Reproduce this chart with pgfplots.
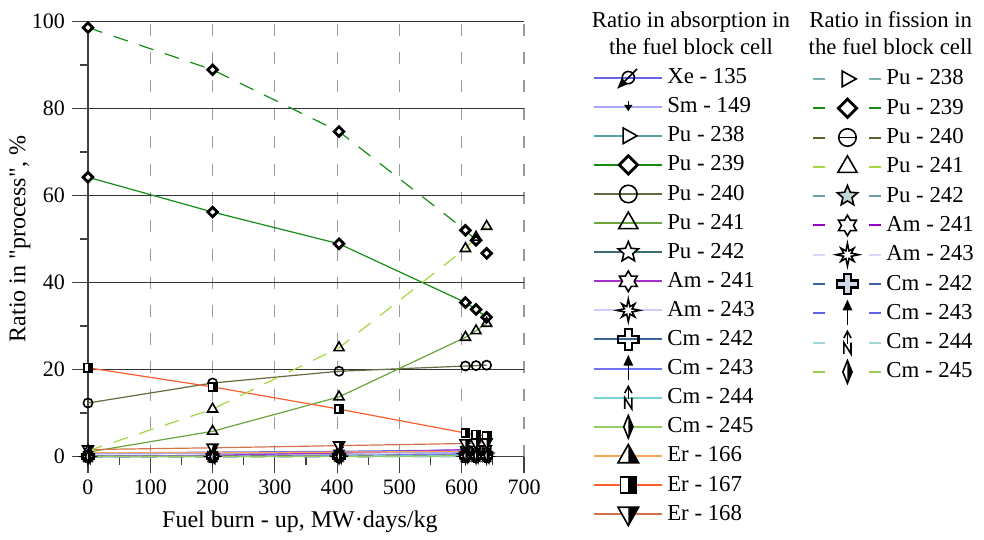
\documentclass[border=0pt]{standalone}
\usepackage{fontspec}
\setmainfont{Liberation Serif}
\usepackage{pgfplots}
\pgfplotsset{compat=1.18}

\definecolor{cXe}{RGB}{100,100,235}
\definecolor{cSm}{RGB}{165,165,250}
\definecolor{cPuA}{RGB}{90,160,160}
\definecolor{cPuB}{RGB}{20,140,20}
\definecolor{cPuC}{RGB}{105,105,65}
\definecolor{cPuD}{RGB}{105,165,60}
\definecolor{cPuE}{RGB}{60,110,110}
\definecolor{cAmA}{RGB}{165,50,205}
\definecolor{cAmB}{RGB}{205,205,255}
\definecolor{cCmA}{RGB}{60,100,150}
\definecolor{cCmB}{RGB}{115,115,245}
\definecolor{cCmC}{RGB}{120,210,210}
\definecolor{cCmD}{RGB}{145,205,95}
\definecolor{cErA}{RGB}{250,165,85}
\definecolor{cErB}{RGB}{250,95,45}
\definecolor{cErC}{RGB}{210,115,75}
% fission colours
\definecolor{fPuA}{RGB}{120,175,175}
\definecolor{fPuB}{RGB}{20,140,20}
\definecolor{fPuC}{RGB}{95,95,45}
\definecolor{fPuD}{RGB}{165,215,65}
\definecolor{fPuE}{RGB}{110,160,160}
\definecolor{fAmA}{RGB}{150,0,200}
\definecolor{fAmB}{RGB}{215,215,250}
\definecolor{fCmA}{RGB}{60,100,165}
\definecolor{fCmB}{RGB}{95,95,240}
\definecolor{fCmC}{RGB}{160,215,215}
\definecolor{fCmD}{RGB}{155,205,85}

\newcommand{\ms}{\pgfplotmarksize}
% ---- custom marks ----
\pgfdeclareplotmark{xe}{%
  \pgfpathcircle{\pgfpointorigin}{0.7\ms}\pgfusepathqstroke
  \pgfpathmoveto{\pgfpoint{-1\ms}{-1\ms}}\pgfpathlineto{\pgfpoint{1\ms}{1\ms}}\pgfusepathqstroke
  \begin{pgfscope}\pgfsetfillcolor{black}
  \pgfpathmoveto{\pgfpoint{-1.1\ms}{-1.1\ms}}\pgfpathlineto{\pgfpoint{-0.3\ms}{-0.75\ms}}%
  \pgfpathlineto{\pgfpoint{-0.75\ms}{-0.3\ms}}\pgfpathclose\pgfusepathqfillstroke
  \end{pgfscope}}
\pgfdeclareplotmark{smark}{%
  \pgfpathmoveto{\pgfpoint{0pt}{0.6\ms}}\pgfpathlineto{\pgfpoint{0pt}{0\ms}}\pgfusepathqstroke
  \begin{pgfscope}\pgfsetfillcolor{black}
  \pgfpathmoveto{\pgfpoint{-0.3\ms}{0.1\ms}}\pgfpathlineto{\pgfpoint{0.3\ms}{0.1\ms}}%
  \pgfpathlineto{\pgfpoint{0pt}{-0.35\ms}}\pgfpathclose\pgfusepathqfillstroke
  \end{pgfscope}}
\pgfdeclareplotmark{triright}{%
  \pgfpathmoveto{\pgfpoint{1\ms}{0pt}}\pgfpathlineto{\pgfpoint{-0.6\ms}{0.9\ms}}%
  \pgfpathlineto{\pgfpoint{-0.6\ms}{-0.9\ms}}\pgfpathclose\pgfusepathqfillstroke}
\pgfdeclareplotmark{sqdia}{%
  \pgfpathmoveto{\pgfpoint{0pt}{1\ms}}\pgfpathlineto{\pgfpoint{1\ms}{0pt}}%
  \pgfpathlineto{\pgfpoint{0pt}{-1\ms}}\pgfpathlineto{\pgfpoint{-1\ms}{0pt}}%
  \pgfpathclose\pgfusepathqfillstroke}
\pgfdeclareplotmark{star5}{%
  \pgfpathmoveto{\pgfpointpolar{90}{1\ms}}\pgfpathlineto{\pgfpointpolar{126}{0.45\ms}}%
  \pgfpathlineto{\pgfpointpolar{162}{1\ms}}\pgfpathlineto{\pgfpointpolar{198}{0.45\ms}}%
  \pgfpathlineto{\pgfpointpolar{234}{1\ms}}\pgfpathlineto{\pgfpointpolar{270}{0.45\ms}}%
  \pgfpathlineto{\pgfpointpolar{306}{1\ms}}\pgfpathlineto{\pgfpointpolar{342}{0.45\ms}}%
  \pgfpathlineto{\pgfpointpolar{18}{1\ms}}\pgfpathlineto{\pgfpointpolar{54}{0.45\ms}}%
  \pgfpathclose\pgfusepathqfillstroke}
\pgfdeclareplotmark{star6}{%
  \pgfpathmoveto{\pgfpointpolar{90}{1\ms}}\pgfpathlineto{\pgfpointpolar{120}{0.58\ms}}%
  \pgfpathlineto{\pgfpointpolar{150}{1\ms}}\pgfpathlineto{\pgfpointpolar{180}{0.58\ms}}%
  \pgfpathlineto{\pgfpointpolar{210}{1\ms}}\pgfpathlineto{\pgfpointpolar{240}{0.58\ms}}%
  \pgfpathlineto{\pgfpointpolar{270}{1\ms}}\pgfpathlineto{\pgfpointpolar{300}{0.58\ms}}%
  \pgfpathlineto{\pgfpointpolar{330}{1\ms}}\pgfpathlineto{\pgfpointpolar{0}{0.58\ms}}%
  \pgfpathlineto{\pgfpointpolar{30}{1\ms}}\pgfpathlineto{\pgfpointpolar{60}{0.58\ms}}%
  \pgfpathclose\pgfusepathqfillstroke}
\pgfdeclareplotmark{star8}{%
  \pgfpathmoveto{\pgfpointpolar{90}{1.1\ms}}\pgfpathlineto{\pgfpointpolar{112.5}{0.4\ms}}%
  \pgfpathlineto{\pgfpointpolar{135}{0.9\ms}}\pgfpathlineto{\pgfpointpolar{157.5}{0.4\ms}}%
  \pgfpathlineto{\pgfpointpolar{180}{1.1\ms}}\pgfpathlineto{\pgfpointpolar{202.5}{0.4\ms}}%
  \pgfpathlineto{\pgfpointpolar{225}{0.9\ms}}\pgfpathlineto{\pgfpointpolar{247.5}{0.4\ms}}%
  \pgfpathlineto{\pgfpointpolar{270}{1.1\ms}}\pgfpathlineto{\pgfpointpolar{292.5}{0.4\ms}}%
  \pgfpathlineto{\pgfpointpolar{315}{0.9\ms}}\pgfpathlineto{\pgfpointpolar{337.5}{0.4\ms}}%
  \pgfpathlineto{\pgfpointpolar{0}{1.1\ms}}\pgfpathlineto{\pgfpointpolar{22.5}{0.4\ms}}%
  \pgfpathlineto{\pgfpointpolar{45}{0.9\ms}}\pgfpathlineto{\pgfpointpolar{67.5}{0.4\ms}}%
  \pgfpathclose\pgfusepathqfillstroke}
\pgfdeclareplotmark{plusout}{%
  \pgfpathmoveto{\pgfpoint{0.35\ms}{1\ms}}\pgfpathlineto{\pgfpoint{0.35\ms}{0.35\ms}}%
  \pgfpathlineto{\pgfpoint{1\ms}{0.35\ms}}\pgfpathlineto{\pgfpoint{1\ms}{-0.35\ms}}%
  \pgfpathlineto{\pgfpoint{0.35\ms}{-0.35\ms}}\pgfpathlineto{\pgfpoint{0.35\ms}{-1\ms}}%
  \pgfpathlineto{\pgfpoint{-0.35\ms}{-1\ms}}\pgfpathlineto{\pgfpoint{-0.35\ms}{-0.35\ms}}%
  \pgfpathlineto{\pgfpoint{-1\ms}{-0.35\ms}}\pgfpathlineto{\pgfpoint{-1\ms}{0.35\ms}}%
  \pgfpathlineto{\pgfpoint{-0.35\ms}{0.35\ms}}\pgfpathlineto{\pgfpoint{-0.35\ms}{1\ms}}%
  \pgfpathclose\pgfusepathqstroke}
\pgfdeclareplotmark{plusfill}{%
  \pgfpathmoveto{\pgfpoint{0.35\ms}{1\ms}}\pgfpathlineto{\pgfpoint{0.35\ms}{0.35\ms}}%
  \pgfpathlineto{\pgfpoint{1\ms}{0.35\ms}}\pgfpathlineto{\pgfpoint{1\ms}{-0.35\ms}}%
  \pgfpathlineto{\pgfpoint{0.35\ms}{-0.35\ms}}\pgfpathlineto{\pgfpoint{0.35\ms}{-1\ms}}%
  \pgfpathlineto{\pgfpoint{-0.35\ms}{-1\ms}}\pgfpathlineto{\pgfpoint{-0.35\ms}{-0.35\ms}}%
  \pgfpathlineto{\pgfpoint{-1\ms}{-0.35\ms}}\pgfpathlineto{\pgfpoint{-1\ms}{0.35\ms}}%
  \pgfpathlineto{\pgfpoint{-0.35\ms}{0.35\ms}}\pgfpathlineto{\pgfpoint{-0.35\ms}{1\ms}}%
  \pgfpathclose\pgfusepathqfillstroke}
\pgfdeclareplotmark{uparrow}{%
  \pgfpathmoveto{\pgfpoint{0pt}{-1.1\ms}}\pgfpathlineto{\pgfpoint{0pt}{0.4\ms}}\pgfusepathqstroke
  \begin{pgfscope}\pgfsetfillcolor{black}
  \pgfpathmoveto{\pgfpoint{-0.35\ms}{0.35\ms}}\pgfpathlineto{\pgfpoint{0.35\ms}{0.35\ms}}%
  \pgfpathlineto{\pgfpoint{0pt}{1.1\ms}}\pgfpathclose\pgfusepathqfillstroke
  \end{pgfscope}}
\pgfdeclareplotmark{cmn}{%
  \pgfpathmoveto{\pgfpoint{-0.35\ms}{0.45\ms}}\pgfpathlineto{\pgfpoint{0pt}{1.1\ms}}%
  \pgfpathlineto{\pgfpoint{0.35\ms}{0.45\ms}}\pgfusepathqstroke
  \pgfpathmoveto{\pgfpoint{0pt}{1.1\ms}}\pgfpathlineto{\pgfpoint{0pt}{-0.1\ms}}\pgfusepathqstroke
  \pgfpathmoveto{\pgfpoint{-0.35\ms}{-1.1\ms}}\pgfpathlineto{\pgfpoint{-0.35\ms}{0pt}}%
  \pgfpathlineto{\pgfpoint{0.35\ms}{-1.1\ms}}\pgfpathlineto{\pgfpoint{0.35\ms}{0pt}}\pgfusepathqstroke}
\pgfdeclareplotmark{thindia}{%
  \pgfpathmoveto{\pgfpoint{0pt}{1.1\ms}}\pgfpathlineto{\pgfpoint{0.45\ms}{0pt}}%
  \pgfpathlineto{\pgfpoint{0pt}{-1.1\ms}}\pgfpathlineto{\pgfpoint{-0.45\ms}{0pt}}\pgfpathclose\pgfusepathqfill
  \begin{pgfscope}\pgfsetfillcolor{black}
  \pgfpathmoveto{\pgfpoint{0pt}{1.1\ms}}\pgfpathlineto{\pgfpoint{0.45\ms}{0pt}}%
  \pgfpathlineto{\pgfpoint{0pt}{-1.1\ms}}\pgfpathclose\pgfusepathqfill
  \end{pgfscope}
  \pgfpathmoveto{\pgfpoint{0pt}{1.1\ms}}\pgfpathlineto{\pgfpoint{0.45\ms}{0pt}}%
  \pgfpathlineto{\pgfpoint{0pt}{-1.1\ms}}\pgfpathlineto{\pgfpoint{-0.45\ms}{0pt}}\pgfpathclose\pgfusepathqstroke}
\pgfdeclareplotmark{halftri}{%
  \pgfpathmoveto{\pgfpoint{0pt}{1\ms}}\pgfpathlineto{\pgfpoint{0.9\ms}{-0.6\ms}}%
  \pgfpathlineto{\pgfpoint{-0.9\ms}{-0.6\ms}}\pgfpathclose\pgfusepathqfill
  \begin{pgfscope}\pgfsetfillcolor{black}
  \pgfpathmoveto{\pgfpoint{0pt}{1\ms}}\pgfpathlineto{\pgfpoint{0.9\ms}{-0.6\ms}}%
  \pgfpathlineto{\pgfpoint{0pt}{-0.6\ms}}\pgfpathclose\pgfusepathqfill
  \end{pgfscope}
  \pgfpathmoveto{\pgfpoint{0pt}{1\ms}}\pgfpathlineto{\pgfpoint{0.9\ms}{-0.6\ms}}%
  \pgfpathlineto{\pgfpoint{-0.9\ms}{-0.6\ms}}\pgfpathclose\pgfusepathqstroke}
\pgfdeclareplotmark{halftridown}{%
  \pgfpathmoveto{\pgfpoint{0pt}{-1\ms}}\pgfpathlineto{\pgfpoint{0.9\ms}{0.6\ms}}%
  \pgfpathlineto{\pgfpoint{-0.9\ms}{0.6\ms}}\pgfpathclose\pgfusepathqfill
  \begin{pgfscope}\pgfsetfillcolor{black}
  \pgfpathmoveto{\pgfpoint{0pt}{-1\ms}}\pgfpathlineto{\pgfpoint{0.9\ms}{0.6\ms}}%
  \pgfpathlineto{\pgfpoint{0pt}{0.6\ms}}\pgfpathclose\pgfusepathqfill
  \end{pgfscope}
  \pgfpathmoveto{\pgfpoint{0pt}{-1\ms}}\pgfpathlineto{\pgfpoint{0.9\ms}{0.6\ms}}%
  \pgfpathlineto{\pgfpoint{-0.9\ms}{0.6\ms}}\pgfpathclose\pgfusepathqstroke}
\pgfdeclareplotmark{halfsq}{%
  \pgfpathrectanglecorners{\pgfpoint{-0.8\ms}{-0.8\ms}}{\pgfpoint{0.8\ms}{0.8\ms}}\pgfusepathqfill
  \begin{pgfscope}\pgfsetfillcolor{black}
  \pgfpathrectanglecorners{\pgfpoint{0pt}{-0.8\ms}}{\pgfpoint{0.8\ms}{0.8\ms}}\pgfusepathqfill
  \end{pgfscope}
  \pgfpathrectanglecorners{\pgfpoint{-0.8\ms}{-0.8\ms}}{\pgfpoint{0.8\ms}{0.8\ms}}\pgfusepathqstroke}
\pgfdeclareplotmark{ominus}{%
  \pgfpathcircle{\pgfpointorigin}{\ms}\pgfusepathqfillstroke
  \pgfpathmoveto{\pgfpoint{-1\ms}{0pt}}\pgfpathlineto{\pgfpoint{1\ms}{0pt}}\pgfusepathqstroke}

\newcommand{\fnt}{\fontsize{11.4}{13.5}\selectfont}
\newcommand{\tfnt}{\fontsize{11}{13}\selectfont}
\newcommand{\lfnt}{\fontsize{12}{14}\selectfont}
% straight double quote, set as a glyph so that the TeX mapping leaves it alone
\newcommand{\sq}{\XeTeXglyph\XeTeXglyphindex "quotedbl"\relax}

\pgfplotsset{
  ab/.style={solid, line width=0.6pt, mark size=2.3pt,
    mark options={solid, draw=black, fill=white, line width=0.8pt}},
  fi/.style={dash pattern=on 7.5pt off 6pt, line width=0.6pt, mark size=2.3pt,
    mark options={solid, draw=black, fill=white, line width=0.8pt}},
  dia/.style={mark=sqdia, mark size=2.4pt, mark options={solid, draw=black, fill=white, line width=1.4pt}},
  base/.style={
    scale only axis, width=218pt, height=217.5pt,
    xmin=0, xmax=700, ymin=0, ymax=100, clip=false,
  },
}

\begin{document}
\begin{tikzpicture}
\begin{axis}[base,
  axis lines*=left,
  axis line style={black!75, line width=0.6pt},
  xtick={0,100,...,700}, ytick={0,20,...,100},
  minor x tick num=1, minor y tick num=1,
  tick align=outside, major tick length=8pt, minor tick length=4pt,
  tick style={black!75, line width=0.6pt},
  grid=major,
  x grid style={black!40, line width=0.6pt, dash pattern=on 6pt off 8pt},
  y grid style={black!80, line width=0.6pt},
  tick label style={font=\tfnt}, /pgf/number format/assume math mode=true,
  label style={font=\lfnt},
  xlabel={Fuel burn - up, MW·days/kg},
  ylabel={Ratio in \sq process\sq, \%},
  xlabel style={at={(axis description cs:0.486,-0.1506)}, anchor=center},
  ylabel style={at={(axis description cs:-0.156,0.5)}, anchor=center},
  legend cell align=left,
  legend image code/.code={\draw[line width=1pt, mark repeat=2,mark phase=2,/tikz/every mark/.append style={scale=1.9}]
    plot coordinates {(0pt,0pt) (17pt,0pt) (34pt,0pt)};},
  legend style={at={(axis description cs:1.158,0.902)}, anchor=north west,
    draw=none, fill=none, font=\fnt, row sep={14.55pt,between origins}, inner sep=0pt},
]
% frame of the whole picture, as in the reference
\path (axis description cs:-0.2018,-0.1874) rectangle (axis description cs:2.055,1.0494);
% absorption
\addplot[ab, cXe, mark=xe] coordinates {(0,0.8) (200,1.0) (403,1.2) (606,1.5) (623,1.6) (640,1.6)};
\addlegendentry{Xe - 135}
\addplot[ab, cSm, mark=smark] coordinates {(0,0.6) (200,0.7) (403,0.8) (606,0.9) (623,0.9) (640,0.9)};
\addlegendentry{Sm - 149}
\addplot[ab, cPuA, mark=triright] coordinates {(0,0.0) (200,0.02) (403,0.05) (606,0.1) (623,0.1) (640,0.1)};
\addlegendentry{Pu - 238}
\addplot[ab, cPuB, dia] coordinates {(0,64.2) (200,56.2) (403,48.9) (606,35.4) (623,33.8) (640,32.0)};
\addlegendentry{Pu - 239}
\addplot[ab, cPuC, mark=o] coordinates {(0,12.3) (200,16.9) (403,19.6) (606,20.8) (623,20.9) (640,21.0)};
\addlegendentry{Pu - 240}
\addplot[ab, cPuD, mark=triangle, mark size=2.9pt] coordinates {(0,1.0) (200,5.8) (403,13.7) (606,27.4) (623,28.9) (640,30.6)};
\addlegendentry{Pu - 241}
\addplot[ab, cPuE, mark=star5, mark size=2.8pt] coordinates {(0,0.1) (200,0.2) (403,0.35) (606,0.6) (623,0.6) (640,0.65)};
\addlegendentry{Pu - 242}
\addplot[ab, cAmA, mark=star6, mark size=2.7pt] coordinates {(0,0.0) (200,0.3) (403,0.8) (606,1.6) (623,1.7) (640,1.8)};
\addlegendentry{Am - 241}
\addplot[ab, cAmB, mark=star8, mark size=2.7pt] coordinates {(0,0.0) (200,0.1) (403,0.3) (606,0.7) (623,0.75) (640,0.8)};
\addlegendentry{Am - 243}
\addplot[ab, cCmA, mark=plusout, mark size=2.7pt, mark options={solid, draw=black, line width=1.2pt}] coordinates {(0,0.0) (200,0.05) (403,0.15) (606,0.3) (623,0.3) (640,0.3)};
\addlegendentry{Cm - 242}
\addplot[ab, cCmB, mark=uparrow, mark size=2.8pt] coordinates {(0,0.0) (200,0.05) (403,0.2) (606,0.6) (623,0.65) (640,0.7)};
\addlegendentry{Cm - 243}
\addplot[ab, cCmC, mark=cmn, mark size=2.7pt] coordinates {(0,0.0) (200,0.02) (403,0.1) (606,0.3) (623,0.32) (640,0.35)};
\addlegendentry{Cm - 244}
\addplot[ab, cCmD, mark=thindia, mark size=2.7pt] coordinates {(0,0.0) (200,0.0) (403,0.02) (606,0.05) (623,0.06) (640,0.07)};
\addlegendentry{Cm - 245}
\addplot[ab, cErA, mark=halftri, mark size=3pt] coordinates {(0,0.9) (200,0.9) (403,1.0) (606,1.2) (623,1.2) (640,1.2)};
\addlegendentry{Er - 166}
\addplot[ab, cErB, mark=halfsq, mark size=2.6pt] coordinates {(0,20.4) (200,16.0) (403,10.9) (606,5.4) (623,5.0) (640,4.7)};
\addlegendentry{Er - 167}
\addplot[ab, cErC, mark=halftridown, mark size=3pt] coordinates {(0,1.6) (200,2.0) (403,2.5) (606,3.0) (623,3.1) (640,3.2)};
\addlegendentry{Er - 168}
\node[font=\fnt, align=center] at (axis description cs:1.383,0.9724) {Ratio in absorption in\\the fuel block cell};
\node[font=\fnt, align=center] at (axis description cs:1.841,0.9724) {Ratio in fission in\\the fuel block cell};
\end{axis}

\begin{axis}[base, hide axis,
  legend cell align=left,
  legend image code/.code={\draw[line width=1pt, dash pattern=on 6pt off 22pt, mark repeat=2,mark phase=2,/tikz/every mark/.append style={scale=1.9}]
    plot coordinates {(0pt,0pt) (17pt,0pt) (34pt,0pt)};},
  legend style={at={(axis description cs:1.6606,0.899)}, anchor=north west,
    draw=none, fill=none, font=\fnt, row sep={14.65pt,between origins}, inner sep=0pt},
]
% fission
\addplot[fi, fPuA, mark=triright] coordinates {(0,0.0) (200,0.0) (403,0.01) (606,0.03) (623,0.03) (640,0.03)};
\addlegendentry{Pu - 238}
\addplot[fi, fPuB, dia] coordinates {(0,98.6) (200,88.9) (403,74.7) (606,52.0) (623,49.7) (640,46.7)};
\addlegendentry{Pu - 239}
\addplot[fi, fPuC, mark=ominus] coordinates {(0,0.1) (200,0.15) (403,0.2) (606,0.25) (623,0.25) (640,0.25)};
\addlegendentry{Pu - 240}
\addplot[fi, fPuD, mark=triangle, mark size=2.9pt] coordinates {(0,1.3) (200,10.9) (403,25.0) (606,47.8) (623,50.4) (640,52.9)};
\addlegendentry{Pu - 241}
\addplot[fi, fPuE, mark=star5, mark size=2.8pt, mark options={solid, draw=black, fill=fPuE!40, line width=0.8pt}] coordinates {(0,0.0) (200,0.0) (403,0.01) (606,0.02) (623,0.02) (640,0.02)};
\addlegendentry{Pu - 242}
\addplot[fi, fAmA, mark=star6, mark size=2.7pt] coordinates {(0,0.0) (200,0.01) (403,0.02) (606,0.05) (623,0.05) (640,0.05)};
\addlegendentry{Am - 241}
\addplot[fi, fAmB, mark=star8, mark size=2.7pt] coordinates {(0,0.0) (200,0.0) (403,0.01) (606,0.02) (623,0.02) (640,0.02)};
\addlegendentry{Am - 243}
\addplot[fi, fCmA, mark=plusfill, mark size=2.7pt, mark options={solid, draw=black, fill=fCmA!25, line width=1.2pt}] coordinates {(0,0.0) (200,0.01) (403,0.02) (606,0.05) (623,0.05) (640,0.05)};
\addlegendentry{Cm - 242}
\addplot[fi, fCmB, mark=uparrow, mark size=2.8pt] coordinates {(0,0.0) (200,0.02) (403,0.05) (606,0.15) (623,0.16) (640,0.17)};
\addlegendentry{Cm - 243}
\addplot[fi, fCmC, mark=cmn, mark size=2.7pt] coordinates {(0,0.0) (200,0.0) (403,0.01) (606,0.03) (623,0.03) (640,0.03)};
\addlegendentry{Cm - 244}
\addplot[fi, fCmD, mark=thindia, mark size=2.7pt] coordinates {(0,0.0) (200,0.01) (403,0.05) (606,0.2) (623,0.21) (640,0.22)};
\addlegendentry{Cm - 245}
\end{axis}
\end{tikzpicture}
\end{document}
